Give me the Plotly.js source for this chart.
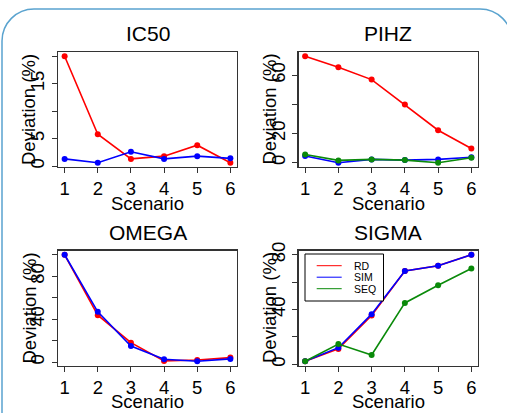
<!DOCTYPE html>
<html>
<head>
<meta charset="utf-8">
<script src="https://cdn.plot.ly/plotly-3.0.1.min.js"></script>
<style>
html,body{margin:0;padding:0;background:#fff;}
#chart{width:507px;height:413px;}
</style>
</head>
<body>
<div id="chart"></div>
<script>
// ---------- data ----------
const scenarios = [1, 2, 3, 4, 5, 6];
const panelTitles = ["IC50", "PIHZ", "OMEGA", "SIGMA"];
const seriesNames = ["RD", "SIM", "SEQ"];

const ic50_RD  = [20.0, 5.8, 1.3, 1.8, 3.8, 0.6];
const ic50_SIM = [1.3, 0.6, 2.6, 1.3, 1.8, 1.4];

const pihz_RD  = [73.0, 65.5, 57.0, 39.9, 22.3, 9.8];
const pihz_SIM = [4.6, 0.0, 2.3, 1.8, 2.3, 3.8];
const pihz_SEQ = [5.7, 1.6, 2.3, 1.8, 0.0, 3.4];

const omega_RD  = [100.0, 43.8, 18.2, 1.2, 2.1, 4.3];
const omega_SIM = [100.0, 46.9, 15.1, 2.8, 0.9, 3.1];

const sigma_RD  = [2.2, 11.2, 35.6, 68.1, 72.0, 80.0];
const sigma_SIM = [2.2, 12.1, 36.6, 68.1, 72.0, 80.0];
const sigma_SEQ = [2.2, 14.8, 6.8, 44.8, 57.7, 70.0];

const ic50_ticks  = [0, 5, 10, 15, 20];
const ic50_labels = ["0", "5", "", "15", ""];
const pihz_ticks  = [0, 20, 40, 60];
const pihz_labels = ["0", "20", "", "60"];
const omega_ticks  = [0, 20, 40, 60, 80, 100];
const omega_labels = ["0", "", "40", "", "80", ""];
const sigma_ticks  = [0, 20, 40, 60, 80];
const sigma_labels = ["0", "", "40", "", "80"];

const xTitle = "Scenario";
const yTitle = "Deviation (%)";

// ---------- styling ----------
const W = 507, H = 413;
const FONT = "Liberation Sans, Arial, Helvetica, sans-serif";
const colors = {RD: "#ff0000", SIM: "#0000ff", SEQ: "#0a8a0a"};
const axisColor = "#333333";

// panel boxes in pixels [left, right, top, bottom]
const boxes = [
  [58, 237, 52, 167],
  [298.5, 478, 52, 167],
  [58, 237, 250.5, 365.5],
  [298.5, 478, 250.5, 365.5]
];
const px = x => x / W;
const py = y => 1 - y / H;

function rRange(arrs) {
  const all = [].concat(...arrs);
  const mn = Math.min(...all), mx = Math.max(...all);
  const d = (mx - mn) * 0.04;
  return [mn - d, mx + d];
}

const panels = [
  {series: {RD: ic50_RD, SIM: ic50_SIM}, ticks: ic50_ticks, labels: ic50_labels},
  {series: {RD: pihz_RD, SIM: pihz_SIM, SEQ: pihz_SEQ}, ticks: pihz_ticks, labels: pihz_labels},
  {series: {RD: omega_RD, SIM: omega_SIM}, ticks: omega_ticks, labels: omega_labels},
  {series: {RD: sigma_RD, SIM: sigma_SIM, SEQ: sigma_SEQ}, ticks: sigma_ticks, labels: sigma_labels}
];

const traces = [];
const layout = {
  width: W, height: H,
  margin: {l: 0, r: 0, t: 0, b: 0},
  paper_bgcolor: "#ffffff",
  plot_bgcolor: "#ffffff",
  showlegend: false,
  font: {family: FONT, color: "#000"},
  annotations: [],
  shapes: []
};

panels.forEach((p, i) => {
  const n = i + 1;
  const xa = n === 1 ? "x" : "x" + n;
  const ya = n === 1 ? "y" : "y" + n;
  const b = boxes[i];
  seriesNames.forEach(name => {
    if (!p.series[name]) return;
    traces.push({
      type: "scatter", mode: "lines+markers",
      x: scenarios, y: p.series[name], name: name,
      xaxis: xa, yaxis: ya,
      line: {color: colors[name], width: 1.6},
      marker: {color: colors[name], size: 6},
      cliponaxis: false,
      hoverinfo: "x+y+name"
    });
  });
  const xkey = n === 1 ? "xaxis" : "xaxis" + n;
  const ykey = n === 1 ? "yaxis" : "yaxis" + n;
  layout[xkey] = {
    domain: [px(b[0]), px(b[1])],
    anchor: ya,
    range: [0.8, 6.2],
    tickmode: "array", tickvals: scenarios,
    ticks: "outside", ticklen: 5, tickwidth: 1, tickcolor: axisColor,
    showline: true, mirror: true, linecolor: axisColor, linewidth: 1.2,
    showgrid: false, zeroline: false,
    tickfont: {family: FONT, size: 18.5, color: "#000"},
    ticklabelstandoff: 0
  };
  layout[ykey] = {
    domain: [py(b[3]), py(b[2])],
    anchor: xa,
    range: rRange(Object.values(p.series)),
    tickmode: "array", tickvals: p.ticks, ticktext: p.labels,
    tickangle: -90,
    ticks: "outside", ticklen: 5, tickwidth: 1, tickcolor: axisColor,
    showline: true, mirror: true, linecolor: axisColor, linewidth: 1.2,
    showgrid: false, zeroline: false,
    tickfont: {family: FONT, size: 18.5, color: "#000"},
    ticklabelstandoff: 0
  };
  const cx = (b[0] + b[1]) / 2;
  const cy = (b[2] + b[3]) / 2;
  const titleY = i < 2 ? 34 : 232;
  const scenY = i < 2 ? 203.5 : 401.5;
  const devX = b[0] - 29.5;
  layout.annotations.push(
    {text: panelTitles[i], xref: "paper", yref: "paper", x: px(cx), y: py(titleY),
     xanchor: "center", yanchor: "middle", showarrow: false,
     font: {family: FONT, size: 21, color: "#000"}},
    {text: xTitle, xref: "paper", yref: "paper", x: px(cx), y: py(scenY),
     xanchor: "center", yanchor: "middle", showarrow: false,
     font: {family: FONT, size: 18.5, color: "#000"}},
    {text: yTitle, xref: "paper", yref: "paper", x: px(devX), y: py(cy),
     xanchor: "center", yanchor: "middle", showarrow: false, textangle: -90,
     font: {family: FONT, size: 18.5, color: "#000"}}
  );
});

// ---------- legend in SIGMA panel (drawn like R's legend()) ----------
const leg = {l: 305, r: 383.5, t: 254, b: 301, x0: 316.7, x1: 341.7, tx: 352, rows: [265.7, 277.2, 288.7]};
layout.shapes.push({type: "rect", xref: "paper", yref: "paper",
  x0: px(leg.l), x1: px(leg.r), y0: py(leg.b), y1: py(leg.t),
  line: {color: "#000", width: 1}, fillcolor: "rgba(255,255,255,1)", layer: "above"});
seriesNames.forEach((name, k) => {
  layout.shapes.push({type: "line", xref: "paper", yref: "paper",
    x0: px(leg.x0), x1: px(leg.x1), y0: py(leg.rows[k]), y1: py(leg.rows[k]),
    line: {color: colors[name], width: 1}, layer: "above"});
  layout.annotations.push({text: name, xref: "paper", yref: "paper",
    x: px(leg.tx), y: py(leg.rows[k]), xanchor: "left", yanchor: "middle",
    showarrow: false, font: {family: FONT, size: 10.5, color: "#000"}});
});

// ---------- rounded slide frame ----------
const r = 32, k = 0.5523 * r;
const fx0 = 2, fx1 = 512, fy0 = 9, fy1 = 413;
const P = (x, y) => px(x) + "," + py(y);
const framePath =
  "M" + P(fx0, fy1) + " L" + P(fx0, fy0 + r) +
  " C" + P(fx0, fy0 + r - k) + " " + P(fx0 + r - k, fy0) + " " + P(fx0 + r, fy0) +
  " L" + P(fx1 - r, fy0) +
  " C" + P(fx1 - r + k, fy0) + " " + P(fx1, fy0 + r - k) + " " + P(fx1, fy0 + r) +
  " L" + P(fx1, fy1);
layout.shapes.push({type: "path", xref: "paper", yref: "paper", path: framePath,
  line: {color: "#5aa3cf", width: 1.5}, layer: "below"});

Plotly.newPlot("chart", traces, layout, {displayModeBar: false, staticPlot: true});
</script>
</body>
</html>
